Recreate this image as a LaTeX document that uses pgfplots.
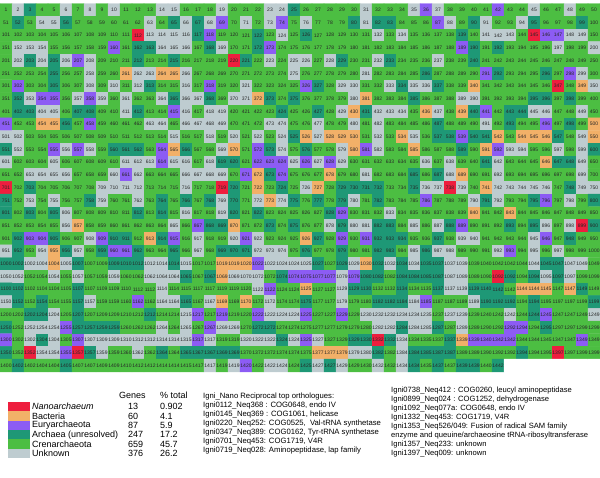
\documentclass[border=0pt]{standalone}
\usepackage{fontspec}
\setmainfont{Liberation Sans}
\usepackage{pgfplots}
\usepackage{pgfplotstable}
\pgfplotsset{compat=1.18}

\definecolor{cR}{RGB}{238,30,62}
\definecolor{cO}{RGB}{242,176,104}
\definecolor{cP}{RGB}{140,92,244}
\definecolor{cT}{RGB}{30,152,118}
\definecolor{cG}{RGB}{76,190,66}
\definecolor{cU}{RGB}{190,204,208}

% category of each ORF, in order 1..1442 (50 per line), 6 = empty cell
% 0 Nanoarchaeum, 1 Bacteria, 2 Euryarchaeota, 3 Archaea (unresolved), 4 Crenarchaeota, 5 Unknown
\pgfplotstableread[row sep=\\]{
c\\
4\\ 5\\ 3\\ 4\\ 4\\ 5\\ 4\\ 5\\ 4\\ 5\\ 4\\ 4\\ 4\\ 5\\ 5\\ 4\\ 4\\ 4\\ 5\\ 4\\ 4\\ 4\\ 5\\ 5\\ 3\\ 4\\ 4\\ 4\\ 4\\ 4\\ 5\\ 4\\ 4\\ 4\\ 5\\ 2\\ 5\\ 4\\ 4\\ 4\\ 4\\ 2\\ 4\\ 4\\ 5\\ 4\\ 4\\ 5\\ 4\\ 4\\
4\\ 3\\ 4\\ 5\\ 5\\ 3\\ 4\\ 4\\ 4\\ 4\\ 4\\ 4\\ 5\\ 4\\ 3\\ 5\\ 3\\ 5\\ 2\\ 4\\ 5\\ 4\\ 5\\ 2\\ 4\\ 5\\ 4\\ 4\\ 4\\ 3\\ 5\\ 3\\ 3\\ 4\\ 4\\ 4\\ 2\\ 5\\ 4\\ 3\\ 5\\ 4\\ 4\\ 5\\ 3\\ 4\\ 4\\ 4\\ 3\\ 4\\
4\\ 4\\ 4\\ 4\\ 4\\ 4\\ 4\\ 4\\ 4\\ 4\\ 4\\ 0\\ 5\\ 5\\ 5\\ 5\\ 3\\ 2\\ 4\\ 4\\ 4\\ 3\\ 4\\ 5\\ 4\\ 3\\ 4\\ 4\\ 4\\ 4\\ 4\\ 5\\ 4\\ 5\\ 4\\ 4\\ 4\\ 4\\ 3\\ 4\\ 5\\ 5\\ 5\\ 4\\ 0\\ 2\\ 2\\ 5\\ 5\\ 4\\
4\\ 5\\ 5\\ 5\\ 4\\ 4\\ 4\\ 4\\ 4\\ 2\\ 4\\ 3\\ 3\\ 5\\ 5\\ 5\\ 4\\ 3\\ 5\\ 4\\ 4\\ 3\\ 2\\ 4\\ 4\\ 4\\ 4\\ 4\\ 4\\ 4\\ 4\\ 4\\ 4\\ 4\\ 4\\ 4\\ 4\\ 4\\ 2\\ 3\\ 4\\ 3\\ 4\\ 4\\ 4\\ 4\\ 5\\ 4\\ 4\\ 5\\
4\\ 5\\ 3\\ 5\\ 3\\ 5\\ 2\\ 5\\ 4\\ 4\\ 4\\ 3\\ 4\\ 4\\ 3\\ 4\\ 4\\ 4\\ 4\\ 0\\ 3\\ 4\\ 5\\ 4\\ 5\\ 5\\ 4\\ 5\\ 3\\ 4\\ 4\\ 5\\ 3\\ 4\\ 4\\ 4\\ 5\\ 4\\ 4\\ 3\\ 4\\ 4\\ 4\\ 4\\ 4\\ 4\\ 4\\ 4\\ 4\\ 4\\
4\\ 4\\ 4\\ 4\\ 3\\ 4\\ 4\\ 5\\ 4\\ 4\\ 1\\ 5\\ 5\\ 1\\ 1\\ 5\\ 4\\ 4\\ 4\\ 4\\ 4\\ 4\\ 4\\ 4\\ 5\\ 4\\ 4\\ 4\\ 4\\ 4\\ 5\\ 4\\ 4\\ 4\\ 4\\ 3\\ 4\\ 4\\ 4\\ 4\\ 2\\ 3\\ 4\\ 4\\ 4\\ 3\\ 4\\ 2\\ 5\\ 4\\
4\\ 2\\ 4\\ 4\\ 3\\ 4\\ 4\\ 5\\ 4\\ 5\\ 4\\ 5\\ 3\\ 4\\ 4\\ 5\\ 4\\ 2\\ 4\\ 4\\ 5\\ 4\\ 4\\ 4\\ 4\\ 2\\ 3\\ 4\\ 5\\ 5\\ 4\\ 4\\ 5\\ 3\\ 5\\ 5\\ 3\\ 4\\ 4\\ 1\\ 4\\ 4\\ 4\\ 4\\ 4\\ 4\\ 0\\ 4\\ 1\\ 5\\
4\\ 3\\ 5\\ 2\\ 2\\ 4\\ 5\\ 2\\ 5\\ 4\\ 5\\ 4\\ 4\\ 5\\ 3\\ 5\\ 5\\ 3\\ 4\\ 5\\ 5\\ 1\\ 3\\ 4\\ 3\\ 4\\ 4\\ 4\\ 4\\ 5\\ 1\\ 4\\ 4\\ 4\\ 3\\ 4\\ 4\\ 4\\ 5\\ 5\\ 4\\ 4\\ 4\\ 4\\ 3\\ 3\\ 4\\ 3\\ 4\\ 4\\
4\\ 3\\ 3\\ 5\\ 5\\ 4\\ 3\\ 3\\ 4\\ 4\\ 5\\ 3\\ 4\\ 4\\ 2\\ 5\\ 4\\ 5\\ 5\\ 4\\ 4\\ 4\\ 4\\ 3\\ 4\\ 4\\ 3\\ 4\\ 5\\ 1\\ 3\\ 5\\ 5\\ 5\\ 4\\ 1\\ 5\\ 4\\ 1\\ 3\\ 2\\ 4\\ 3\\ 3\\ 5\\ 5\\ 4\\ 4\\ 5\\ 4\\
2\\ 4\\ 4\\ 1\\ 1\\ 3\\ 4\\ 2\\ 4\\ 4\\ 4\\ 4\\ 5\\ 5\\ 4\\ 5\\ 5\\ 5\\ 5\\ 4\\ 4\\ 4\\ 5\\ 5\\ 4\\ 4\\ 5\\ 4\\ 4\\ 5\\ 4\\ 5\\ 4\\ 4\\ 4\\ 4\\ 3\\ 4\\ 4\\ 4\\ 5\\ 4\\ 3\\ 4\\ 4\\ 2\\ 4\\ 3\\ 4\\ 1\\
5\\ 5\\ 4\\ 4\\ 4\\ 4\\ 4\\ 4\\ 4\\ 4\\ 4\\ 4\\ 4\\ 4\\ 5\\ 4\\ 4\\ 5\\ 4\\ 5\\ 4\\ 5\\ 4\\ 5\\ 3\\ 1\\ 5\\ 1\\ 1\\ 1\\ 4\\ 5\\ 4\\ 1\\ 5\\ 4\\ 3\\ 3\\ 2\\ 3\\ 3\\ 1\\ 4\\ 1\\ 1\\ 1\\ 3\\ 4\\ 5\\ 1\\
3\\ 5\\ 4\\ 4\\ 2\\ 5\\ 2\\ 5\\ 4\\ 3\\ 3\\ 3\\ 4\\ 2\\ 1\\ 3\\ 4\\ 4\\ 5\\ 1\\ 4\\ 2\\ 3\\ 5\\ 4\\ 3\\ 4\\ 4\\ 5\\ 1\\ 2\\ 5\\ 4\\ 4\\ 1\\ 4\\ 4\\ 4\\ 3\\ 4\\ 1\\ 2\\ 5\\ 5\\ 4\\ 4\\ 5\\ 4\\ 5\\ 3\\
5\\ 4\\ 4\\ 4\\ 5\\ 4\\ 4\\ 4\\ 4\\ 4\\ 5\\ 5\\ 5\\ 2\\ 5\\ 5\\ 4\\ 5\\ 3\\ 3\\ 4\\ 2\\ 2\\ 2\\ 5\\ 2\\ 5\\ 2\\ 5\\ 4\\ 4\\ 4\\ 4\\ 4\\ 4\\ 5\\ 4\\ 5\\ 4\\ 4\\ 3\\ 5\\ 4\\ 4\\ 4\\ 1\\ 3\\ 3\\ 5\\ 4\\
4\\ 4\\ 5\\ 5\\ 5\\ 5\\ 4\\ 4\\ 4\\ 5\\ 2\\ 5\\ 4\\ 4\\ 4\\ 5\\ 5\\ 5\\ 5\\ 4\\ 2\\ 1\\ 3\\ 2\\ 4\\ 4\\ 4\\ 1\\ 4\\ 4\\ 5\\ 4\\ 4\\ 4\\ 3\\ 4\\ 3\\ 5\\ 1\\ 4\\ 4\\ 5\\ 4\\ 4\\ 4\\ 4\\ 4\\ 4\\ 5\\ 4\\
0\\ 4\\ 3\\ 4\\ 4\\ 4\\ 4\\ 4\\ 5\\ 5\\ 5\\ 5\\ 4\\ 4\\ 4\\ 5\\ 4\\ 4\\ 0\\ 3\\ 4\\ 1\\ 4\\ 3\\ 4\\ 5\\ 1\\ 4\\ 3\\ 3\\ 3\\ 3\\ 4\\ 4\\ 3\\ 5\\ 5\\ 0\\ 5\\ 4\\ 1\\ 5\\ 5\\ 5\\ 5\\ 5\\ 4\\ 3\\ 5\\ 5\\
3\\ 4\\ 5\\ 4\\ 5\\ 4\\ 4\\ 3\\ 5\\ 4\\ 4\\ 5\\ 4\\ 3\\ 4\\ 3\\ 4\\ 3\\ 5\\ 3\\ 4\\ 5\\ 1\\ 5\\ 3\\ 4\\ 3\\ 4\\ 3\\ 5\\ 4\\ 3\\ 4\\ 4\\ 4\\ 2\\ 4\\ 4\\ 4\\ 5\\ 3\\ 5\\ 4\\ 4\\ 3\\ 2\\ 4\\ 5\\ 4\\ 3\\
3\\ 4\\ 3\\ 4\\ 3\\ 5\\ 4\\ 4\\ 4\\ 4\\ 4\\ 3\\ 4\\ 3\\ 4\\ 5\\ 4\\ 4\\ 5\\ 3\\ 4\\ 3\\ 4\\ 4\\ 4\\ 4\\ 4\\ 3\\ 2\\ 4\\ 4\\ 4\\ 5\\ 4\\ 4\\ 4\\ 4\\ 4\\ 4\\ 1\\ 4\\ 4\\ 1\\ 4\\ 4\\ 4\\ 4\\ 4\\ 4\\ 4\\
4\\ 4\\ 4\\ 4\\ 4\\ 5\\ 1\\ 4\\ 4\\ 4\\ 4\\ 4\\ 4\\ 4\\ 5\\ 4\\ 2\\ 3\\ 3\\ 1\\ 4\\ 4\\ 3\\ 4\\ 3\\ 4\\ 4\\ 5\\ 3\\ 5\\ 5\\ 3\\ 3\\ 4\\ 5\\ 4\\ 5\\ 3\\ 2\\ 4\\ 4\\ 4\\ 3\\ 4\\ 3\\ 5\\ 4\\ 5\\ 0\\ 3\\
4\\ 3\\ 2\\ 2\\ 3\\ 4\\ 4\\ 5\\ 2\\ 3\\ 3\\ 4\\ 1\\ 3\\ 2\\ 4\\ 5\\ 4\\ 4\\ 5\\ 2\\ 5\\ 4\\ 4\\ 4\\ 1\\ 3\\ 4\\ 2\\ 4\\ 2\\ 3\\ 3\\ 3\\ 4\\ 4\\ 3\\ 4\\ 5\\ 5\\ 4\\ 4\\ 4\\ 4\\ 5\\ 2\\ 4\\ 3\\ 4\\ 4\\
5\\ 3\\ 4\\ 5\\ 1\\ 3\\ 5\\ 4\\ 3\\ 2\\ 2\\ 3\\ 4\\ 4\\ 3\\ 4\\ 5\\ 4\\ 3\\ 3\\ 3\\ 5\\ 5\\ 5\\ 4\\ 3\\ 4\\ 4\\ 3\\ 4\\ 4\\ 3\\ 3\\ 4\\ 5\\ 3\\ 5\\ 5\\ 4\\ 4\\ 4\\ 5\\ 2\\ 4\\ 5\\ 4\\ 5\\ 4\\ 4\\ 4\\
3\\ 3\\ 5\\ 5\\ 1\\ 5\\ 3\\ 4\\ 4\\ 3\\ 3\\ 3\\ 5\\ 5\\ 3\\ 5\\ 4\\ 4\\ 1\\ 1\\ 1\\ 2\\ 5\\ 5\\ 5\\ 5\\ 3\\ 4\\ 3\\ 5\\ 1\\ 3\\ 5\\ 3\\ 5\\ 3\\ 3\\ 5\\ 5\\ 4\\ 4\\ 4\\ 4\\ 4\\ 5\\ 3\\ 3\\ 5\\ 5\\ 4\\
5\\ 5\\ 4\\ 4\\ 5\\ 4\\ 5\\ 4\\ 4\\ 5\\ 4\\ 4\\ 5\\ 5\\ 5\\ 3\\ 4\\ 3\\ 1\\ 5\\ 5\\ 5\\ 4\\ 3\\ 2\\ 2\\ 2\\ 2\\ 5\\ 2\\ 3\\ 3\\ 4\\ 3\\ 3\\ 3\\ 3\\ 5\\ 5\\ 4\\ 4\\ 0\\ 3\\ 4\\ 3\\ 5\\ 3\\ 5\\ 4\\ 4\\
3\\ 3\\ 4\\ 4\\ 4\\ 4\\ 3\\ 4\\ 4\\ 4\\ 4\\ 4\\ 4\\ 5\\ 4\\ 4\\ 4\\ 4\\ 4\\ 4\\ 4\\ 5\\ 2\\ 4\\ 4\\ 1\\ 4\\ 4\\ 5\\ 3\\ 3\\ 4\\ 4\\ 3\\ 4\\ 4\\ 3\\ 5\\ 5\\ 3\\ 3\\ 3\\ 4\\ 1\\ 1\\ 1\\ 4\\ 1\\ 3\\ 4\\
5\\ 3\\ 4\\ 3\\ 4\\ 4\\ 3\\ 5\\ 4\\ 4\\ 4\\ 2\\ 4\\ 5\\ 5\\ 3\\ 4\\ 5\\ 1\\ 4\\ 1\\ 4\\ 5\\ 4\\ 4\\ 3\\ 4\\ 4\\ 5\\ 4\\ 4\\ 3\\ 3\\ 3\\ 5\\ 2\\ 4\\ 4\\ 4\\ 5\\ 3\\ 3\\ 3\\ 4\\ 3\\ 4\\ 4\\ 4\\ 4\\ 3\\
4\\ 4\\ 3\\ 3\\ 5\\ 4\\ 3\\ 4\\ 4\\ 4\\ 4\\ 4\\ 3\\ 4\\ 4\\ 5\\ 2\\ 4\\ 2\\ 4\\ 4\\ 2\\ 5\\ 5\\ 5\\ 2\\ 4\\ 4\\ 2\\ 4\\ 5\\ 5\\ 5\\ 5\\ 5\\ 5\\ 4\\ 5\\ 5\\ 4\\ 4\\ 4\\ 5\\ 4\\ 3\\ 2\\ 4\\ 4\\ 4\\ 5\\
3\\ 4\\ 5\\ 5\\ 5\\ 2\\ 3\\ 3\\ 3\\ 3\\ 4\\ 4\\ 4\\ 5\\ 4\\ 5\\ 4\\ 2\\ 5\\ 5\\ 4\\ 3\\ 3\\ 4\\ 4\\ 4\\ 4\\ 4\\ 4\\ 4\\ 4\\ 5\\ 5\\ 3\\ 5\\ 5\\ 3\\ 4\\ 5\\ 4\\ 4\\ 4\\ 2\\ 2\\ 4\\ 3\\ 4\\ 4\\ 4\\ 4\\
2\\ 4\\ 5\\ 3\\ 5\\ 4\\ 2\\ 5\\ 5\\ 5\\ 5\\ 5\\ 5\\ 5\\ 5\\ 5\\ 2\\ 5\\ 4\\ 4\\ 5\\ 5\\ 5\\ 3\\ 5\\ 2\\ 5\\ 4\\ 4\\ 3\\ 3\\ 0\\ 3\\ 5\\ 4\\ 4\\ 4\\ 3\\ 1\\ 2\\ 2\\ 2\\ 2\\ 4\\ 4\\ 4\\ 4\\ 4\\ 2\\ 4\\
3\\ 4\\ 0\\ 5\\ 5\\ 2\\ 0\\ 3\\ 5\\ 4\\ 4\\ 5\\ 4\\ 3\\ 4\\ 3\\ 3\\ 3\\ 3\\ 3\\ 4\\ 4\\ 4\\ 4\\ 4\\ 4\\ 1\\ 1\\ 1\\ 5\\ 5\\ 3\\ 4\\ 5\\ 3\\ 3\\ 3\\ 3\\ 4\\ 4\\ 4\\ 4\\ 4\\ 3\\ 4\\ 4\\ 0\\ 4\\ 4\\ 4\\
4\\ 3\\ 4\\ 4\\ 4\\ 3\\ 4\\ 4\\ 4\\ 4\\ 4\\ 4\\ 4\\ 4\\ 4\\ 4\\ 4\\ 5\\ 4\\ 5\\ 2\\ 4\\ 5\\ 5\\ 4\\ 3\\ 5\\ 3\\ 5\\ 4\\ 4\\ 5\\ 4\\ 5\\ 3\\ 4\\ 3\\ 4\\ 3\\ 3\\ 4\\ 3\\ 6\\ 6\\ 6\\ 6\\ 6\\ 6\\ 6\\ 6\\
}\cells

\begin{document}
\begin{tikzpicture}
\useasboundingbox (0pt,0pt) rectangle (600pt,-477pt);
\begin{axis}[
    at={(0pt,-3.5pt)}, anchor=north west,
    scale only axis,
    width=600pt, height=368.3pt,
    hide axis, clip=false,
    xmin=0.5, xmax=50.5,
    ymin=-0.5, ymax=28.5,
    y dir=reverse,
    colormap={cats}{color=(cR) color=(cO) color=(cP) color=(cT) color=(cG) color=(cU) color=(white)},
    colormap access=direct,
]
\addplot[matrix plot*, mesh/cols=50, point meta=explicit]
  table[x index=0, y index=0,
        x expr={\coordindex-50*floor((\coordindex+0.5)/50)+1},
        y expr={floor((\coordindex+0.5)/50)}, meta=c] {\cells};
% cell numbers
\addplot[only marks, mark=none, draw=none,
    skip coords between index={1442}{1450},
    visualization depends on={\coordindex+1 \as \cellnum},
    nodes near coords={\pgfmathprintnumber[int trunc,1000 sep={},assume math mode=true]{\cellnum}},
    nodes near coords align=center,
    every node near coord/.append style={anchor=center, inner sep=0pt,
        text=black!85, font=\fontsize{5}{5}\selectfont},
] table[x index=0, y index=0,
        x expr={\coordindex-50*floor((\coordindex+0.5)/50)+1},
        y expr={floor((\coordindex+0.5)/50)}] {\cells};
\end{axis}

% key
\foreach \c [count=\i from 0] in {cR,cO,cP,cT,cG,cU}
  \fill[\c] (8pt,{-402pt-\i*9.33pt}) rectangle (30pt,{-411.33pt-\i*9.33pt});
\begin{scope}[every node/.style={anchor=west, inner sep=0pt, font=\fontsize{9}{10}\selectfont}]
\node at (119pt,-395pt) {Genes};
\node at (160pt,-395pt) {\% total};
\foreach \lab/\g/\p [count=\i from 0] in {\textit{Nanoarchaeum}/13/0.902, Bacteria/60/4.1,
    Euryarchaeota/87/5.9, Archaea (unresolved)/247/17.2, Crenarchaeota/659/45.7, Unknown/376/26.2} {
  \node at (32pt,{-406.7pt-\i*9.33pt}) {\lab};
  \node at (128pt,{-406.7pt-\i*9.33pt}) {\g};
  \node at (160pt,{-406.7pt-\i*9.33pt}) {\p};
}
\end{scope}
\begin{scope}[every node/.style={anchor=west, inner sep=0pt, font=\fontsize{7.7}{9}\selectfont}]
\node at (203pt,-397pt) {Igni\_Nano Reciprocal top orthologues:};
\node at (203pt,-406pt) {Igni0112\_Neq368 : COG0648, endo IV};
\node at (203pt,-415pt) {Igni0145\_Neq369 : COG1061, helicase};
\node at (203pt,-424pt) {Igni0220\_Neq252: COG0525,\ \ Val-tRNA synthetase};
\node at (203pt,-433pt) {Igni0347\_Neq389: COG0162, Tyr-tRNA synthetase};
\node at (203pt,-442pt) {Igni0701\_Neq453: COG1719, V4R};
\node at (203pt,-451pt) {Igni0719\_Neq028: Aminopeptidase, lap family};
\end{scope}
\begin{scope}[every node/.style={anchor=west, inner sep=0pt, font=\fontsize{7.6}{9}\selectfont}]
\node at (391pt,-391pt) {Igni0738\_Neq412 : COG0260, leucyl aminopeptidase};
\node at (391pt,-400pt) {Igni0899\_Neq024 : COG1252, dehydrogenase};
\node at (391pt,-409pt) {Igni1092\_Neq077a: COG0648, endo IV};
\node at (391pt,-418pt) {Igni1332\_Neq453: COG1719, V4R};
\node at (391pt,-427pt) {Igni1353\_Neq526/049: Fusion of radical SAM family};
\node at (391pt,-436pt) {enzyme and queuine/archaeosine tRNA-ribosyltransferase};
\node at (391pt,-445pt) {Igni1357\_Neq233: unknown};
\node at (391pt,-454pt) {Igni1397\_Neq009: unknown};
\end{scope}
\end{tikzpicture}
\end{document}
